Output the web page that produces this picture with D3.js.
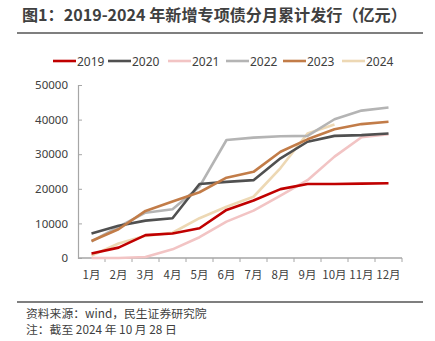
<!DOCTYPE html>
<html>
<head>
<meta charset="utf-8">
<script src="https://cdn.jsdelivr.net/npm/d3@7"></script>
<style>
  html, body { margin: 0; padding: 0; background: #fff; }
  svg { display: block; font-family: "Noto Sans CJK SC", "Noto Sans", sans-serif; }
</style>
</head>
<body>
<svg id="chart" width="435" height="341"></svg>
<script>
// Monthly cumulative issuance of new special-purpose bonds (亿元)
const months = ["1月","2月","3月","4月","5月","6月","7月","8月","9月","10月","11月","12月"];
const years = ["2019","2020","2021","2022","2023","2024"];
const colors = ["#C00000","#505050","#F2C4C4","#B4B4B4","#C27C48","#EDD8B4"];
const yTicks = [0,10000,20000,30000,40000,50000];

const s2019 = [1300, 3000, 6600, 7100, 8600, 13900, 16600, 19900, 21400, 21400, 21500, 21600];
const s2020 = [7100, 9300, 10800, 11500, 21400, 22000, 22500, 28800, 33600, 35300, 35500, 36000];
const s2021 = [0, 0, 300, 2500, 6000, 10500, 13700, 18000, 22500, 29300, 34900, 35800];
const s2022 = [4800, 9000, 13100, 14100, 20600, 34100, 34800, 35200, 35300, 40100, 42600, 43500];
const s2023 = [4900, 8300, 13600, 16300, 19000, 23200, 24900, 30700, 34300, 37200, 38700, 39400];
const s2024 = [700, 4200, 6400, 7300, 11500, 14800, 17700, 26000, 36000, 38600];
const seriesValues = [s2019, s2020, s2021, s2022, s2023, s2024];

const svg = d3.select("#chart");
const textColor = "#404040";

// Title and rules
svg.append("text").attr("x", 22).attr("y", 21)
  .attr("font-size", 16.1).attr("font-weight", "bold").attr("fill", textColor)
  .text("图1：2019-2024 年新增专项债分月累计发行（亿元）");
svg.append("line").attr("x1", 17).attr("x2", 423).attr("y1", 33).attr("y2", 33)
  .attr("stroke", "#555").attr("stroke-width", 1.5);
svg.append("line").attr("x1", 17).attr("x2", 423).attr("y1", 302).attr("y2", 302)
  .attr("stroke", "#555").attr("stroke-width", 1.5);
svg.append("text").attr("x", 26).attr("y", 317.5).attr("font-size", 11.8).attr("fill", textColor)
  .text("资料来源：wind，民生证券研究院");
svg.append("text").attr("x", 26).attr("y", 334).attr("font-size", 11.8).attr("fill", textColor)
  .text("注：截至 2024 年 10 月 28 日");

// Scales
const x = d3.scaleBand().domain(months).range([78, 402]);
const y = d3.scaleLinear().domain([0, 50000]).range([258, 85]);

// Y axis
const yAxis = svg.append("g").attr("transform", "translate(78,0)")
  .call(d3.axisRight(y).tickValues(yTicks).tickSize(4).tickFormat(d3.format("d")));
yAxis.select(".domain").attr("stroke", "#A6A6A6").attr("stroke-width", 1.2);
yAxis.selectAll(".tick line").attr("stroke", "#A6A6A6");
yAxis.selectAll(".tick text").attr("x", -10).attr("text-anchor", "end")
  .attr("font-size", 11.5).attr("fill", textColor).attr("font-family", "'Noto Sans', sans-serif");

// X axis with ticks at band edges
const xg = svg.append("g").attr("transform", "translate(0,258)");
xg.append("line").attr("x1", 78).attr("x2", 402).attr("stroke", "#A6A6A6").attr("stroke-width", 1.5);
xg.selectAll("line.tk").data(months).enter().append("line").attr("class", "tk")
  .attr("x1", d => x(d) + x.bandwidth()).attr("x2", d => x(d) + x.bandwidth())
  .attr("y1", 0).attr("y2", 4).attr("stroke", "#A6A6A6");
xg.selectAll("text").data(months).enter().append("text")
  .attr("x", d => x(d) + x.bandwidth() / 2).attr("y", 21)
  .attr("text-anchor", "middle").attr("font-size", 11.5).attr("fill", textColor)
  .text(d => d);

// Lines
const line = d3.line().x((d, i) => x(months[i]) + x.bandwidth() / 2).y(d => y(d));
const drawOrder = [2, 5, 0, 3, 1, 4];
drawOrder.forEach(k => {
  svg.append("path").datum(seriesValues[k])
    .attr("d", line).attr("fill", "none")
    .attr("stroke", colors[k]).attr("stroke-width", 2.6)
    .attr("stroke-linejoin", "round");
});

// Legend
const legendX = [53, 108, 168, 226, 283, 342];
years.forEach((yr, k) => {
  const g = svg.append("g").attr("transform", `translate(${legendX[k]},61)`);
  g.append("line").attr("x1", 0).attr("x2", 23).attr("stroke", colors[k]).attr("stroke-width", 2.6);
  g.append("text").attr("x", 24).attr("y", 4.5).attr("font-size", 12).attr("fill", textColor)
    .attr("font-family", "'Noto Sans', sans-serif").text(yr);
});
</script>
</body>
</html>
